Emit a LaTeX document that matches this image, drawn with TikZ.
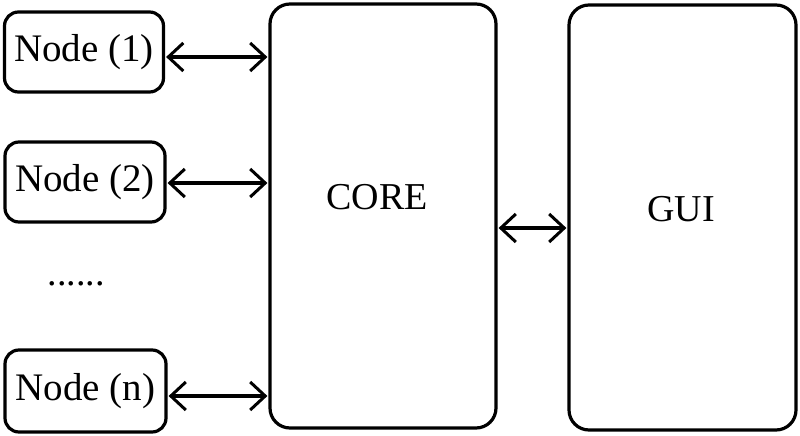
\documentclass[tikz,border=0pt]{standalone}
\usepackage{fontspec}
\setmainfont{Liberation Serif}
\usetikzlibrary{arrows.meta}
\begin{document}
\begin{tikzpicture}[x=1pt,y=-1pt,
  nodebox/.style={draw,line width=3.2pt,rounded corners=14pt,inner sep=0pt,font=\fontsize{39}{42}\selectfont},
  bigbox/.style={draw,line width=3.2pt,rounded corners=20pt,inner sep=0pt},
  lbl/.style={font=\fontsize{38}{40}\selectfont,inner sep=0pt},
  link/.style={line width=3.2pt,{Straight Barb[length=15pt,width=28pt,line width=3pt]}-{Straight Barb[length=15pt,width=28pt,line width=3pt]},shorten <=1pt,shorten >=1pt}]
\useasboundingbox (0,0) rectangle (800,436);
\node[nodebox,minimum width=159pt,minimum height=80pt] (n1) at (84,52) {Node (1)};
\node[nodebox,minimum width=160pt,minimum height=80pt] (n2) at (85,182) {Node (2)};
\node[nodebox,minimum width=161pt,minimum height=82pt] (nn) at (85.5,391) {Node (n)};
\node[lbl] (dots) at (76,284) {......};
\node[bigbox,minimum width=226pt,minimum height=424pt] (core) at (383,216) {};
\node[bigbox,minimum width=227pt,minimum height=425pt] (gui) at (682.5,217.5) {};
\node[lbl] (coreT) at (377,197) {CORE};
\node[lbl] (guiT) at (681,209) {GUI};
\draw[link] ([yshift=-5pt]n1.east) -- ([yshift=-5pt]n1.east -| core.west);
\draw[link] ([yshift=-1pt]n2.east) -- ([yshift=-1pt]n2.east -| core.west);
\draw[link] ([yshift=-5pt]nn.east) -- ([yshift=-5pt]nn.east -| core.west);
\draw[link] ([yshift=-12pt]core.east) -- ([yshift=-12pt]core.east -| gui.west);
\end{tikzpicture}
\end{document}
